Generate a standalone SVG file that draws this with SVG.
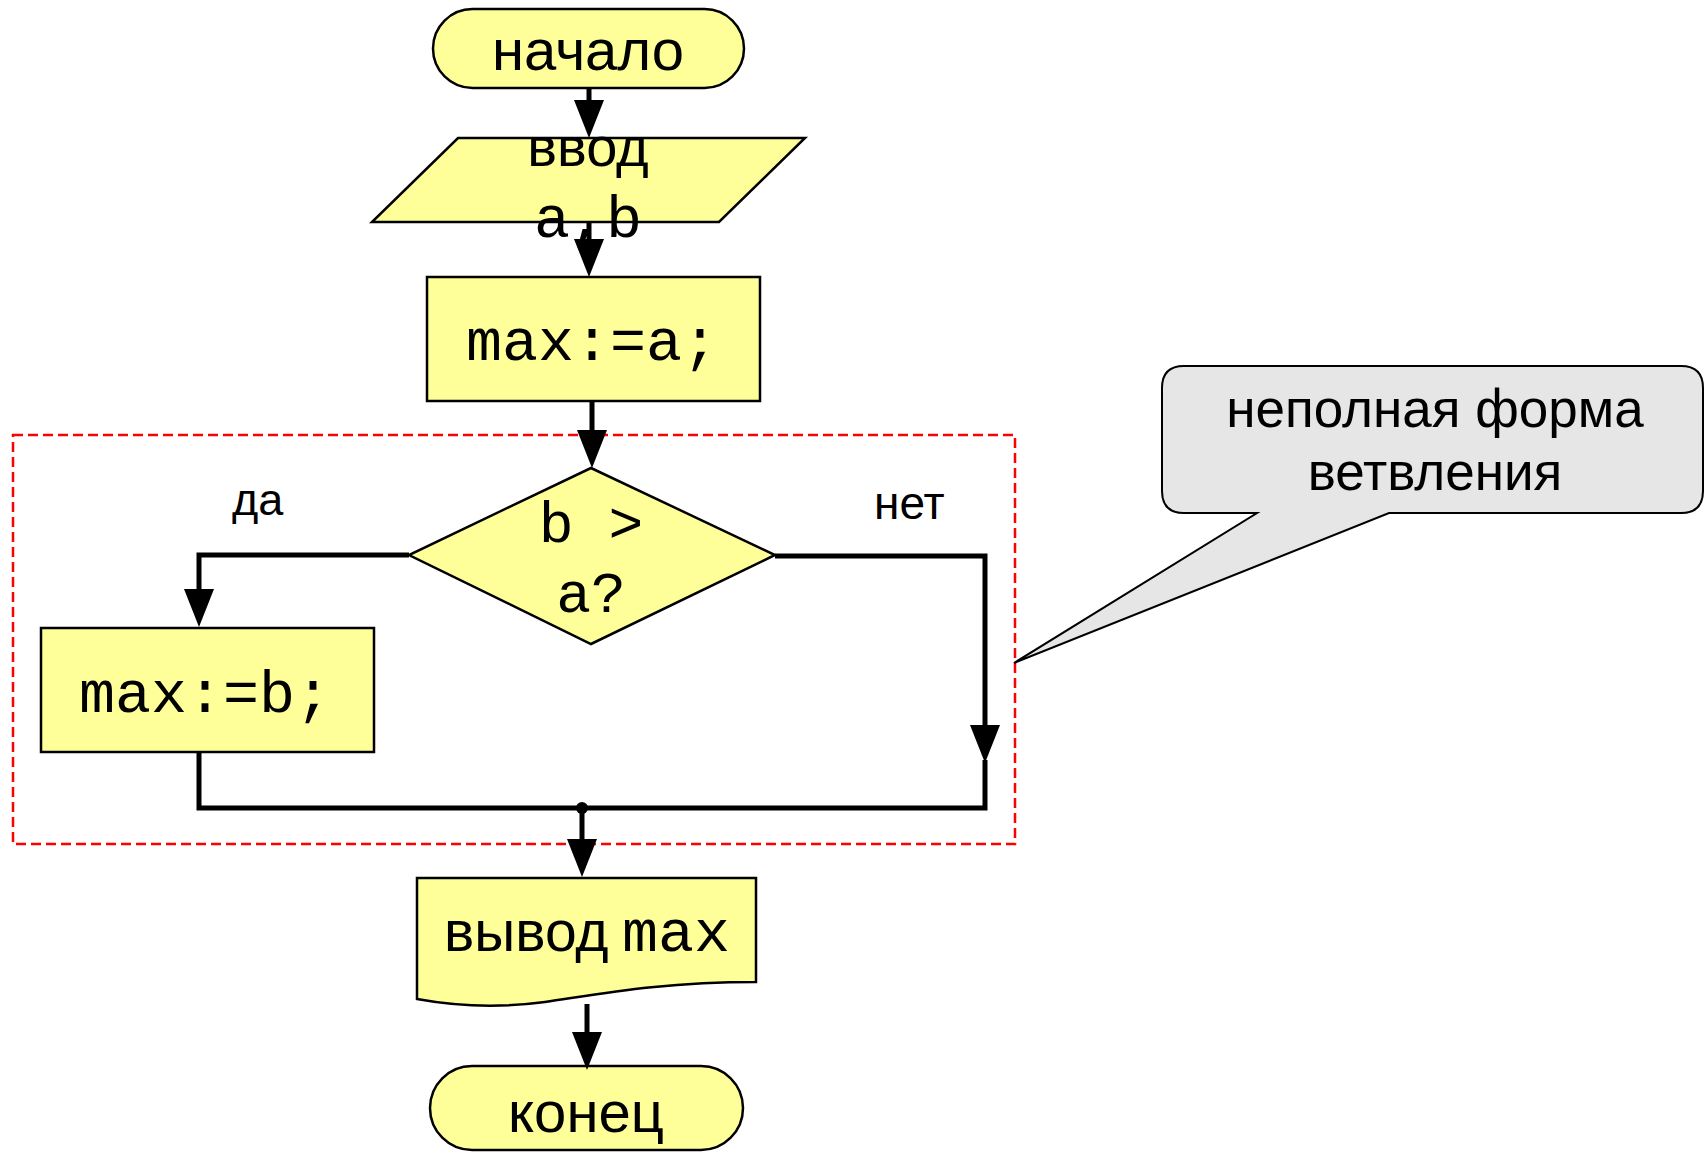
<svg xmlns="http://www.w3.org/2000/svg" width="1704" height="1152" viewBox="0 0 1704 1152">
<style>
.node{fill:#ffff99;stroke:#000;stroke-width:2.5}
.sans{font-family:"Liberation Sans",Arial,sans-serif;fill:#000}
.mono{font-family:"Liberation Mono","Courier New",monospace;fill:#000}
.conn{fill:none;stroke:#000;stroke-width:5}
.arr{marker-end:url(#ah)}
</style>
<defs>
<marker id="ah" viewBox="0 0 38 30" markerWidth="38" markerHeight="30" refX="28" refY="15" orient="auto" markerUnits="userSpaceOnUse">
<path d="M0,0 L38,15 L0,30 Z" fill="#000"/>
</marker>
</defs>
<rect id="frame" x="13" y="435" width="1002" height="409" fill="none" stroke="#ff0000" stroke-width="2.5" stroke-dasharray="10,5"/>
<g id="start">
<rect class="node" x="433" y="9" width="311" height="79" rx="39.5"/>
<text class="sans" x="588" y="70" font-size="58" text-anchor="middle">начало</text>
</g>
<g id="input">
<polygon class="node" points="458,138 805,138 719,222 372,222"/>
<text class="sans" x="588" y="166" font-size="56" text-anchor="middle">ввод</text>
<text class="mono" x="588" y="237" font-size="60" text-anchor="middle">a,b</text>
</g>
<g id="assignA">
<rect class="node" x="427" y="277" width="333" height="124"/>
<text class="mono" x="592" y="360" font-size="60" text-anchor="middle">max:=a;</text>
</g>
<g id="decision">
<polygon class="node" points="591,468 775,555 591,644 409,555"/>
<text class="mono" x="591" y="542" font-size="58" text-anchor="middle">b &gt;</text>
<text class="mono" x="591" y="612" font-size="58" text-anchor="middle">a?</text>
</g>
<g id="assignB">
<rect class="node" x="41" y="628" width="333" height="124"/>
<text class="mono" x="205" y="712" font-size="60" text-anchor="middle">max:=b;</text>
</g>
<g id="output">
<path class="node" d="M417,878 H756 V982 C660,982 600,994 545,1002 C500,1008 455,1006 417,999 Z"/>
<text class="sans" x="444" y="951" font-size="57">вывод<tspan class="mono" x="622" font-size="60">max</tspan></text>
</g>
<g id="end">
<rect class="node" x="430" y="1066" width="313" height="84" rx="42"/>
<text class="sans" x="586" y="1132" font-size="58" text-anchor="middle">конец</text>
</g>
<g id="callout">
<path d="M1184,366 H1681 Q1703,366 1703,388 V491 Q1703,513 1681,513 H1389 L1014,663 L1257,513 H1184 Q1162,513 1162,491 V388 Q1162,366 1184,366 Z" fill="#e6e6e6" stroke="#000" stroke-width="2"/>
<text class="sans" x="1435" y="427" font-size="53" text-anchor="middle">неполная форма</text>
<text class="sans" x="1435" y="490" font-size="53" text-anchor="middle">ветвления</text>
</g>
<g id="connectors">
<path class="conn arr" d="M589,88 V128"/>
<path class="conn arr" d="M589,222 V267"/>
<path class="conn arr" d="M592,401 V458"/>
<path class="conn arr" d="M409,555 H199 V617"/>
<path class="conn arr" d="M775,556 H985 V753"/>
<path class="conn" d="M199,752 V808 H985 V760"/>
<circle cx="582" cy="808" r="6" fill="#000"/>
<path class="conn arr" d="M582,808 V867"/>
<path class="conn arr" d="M587,1004 V1060"/>
<text class="sans" x="232" y="515" font-size="45">да</text>
<text class="sans" x="874" y="519" font-size="46">нет</text>
</g>
</svg>
